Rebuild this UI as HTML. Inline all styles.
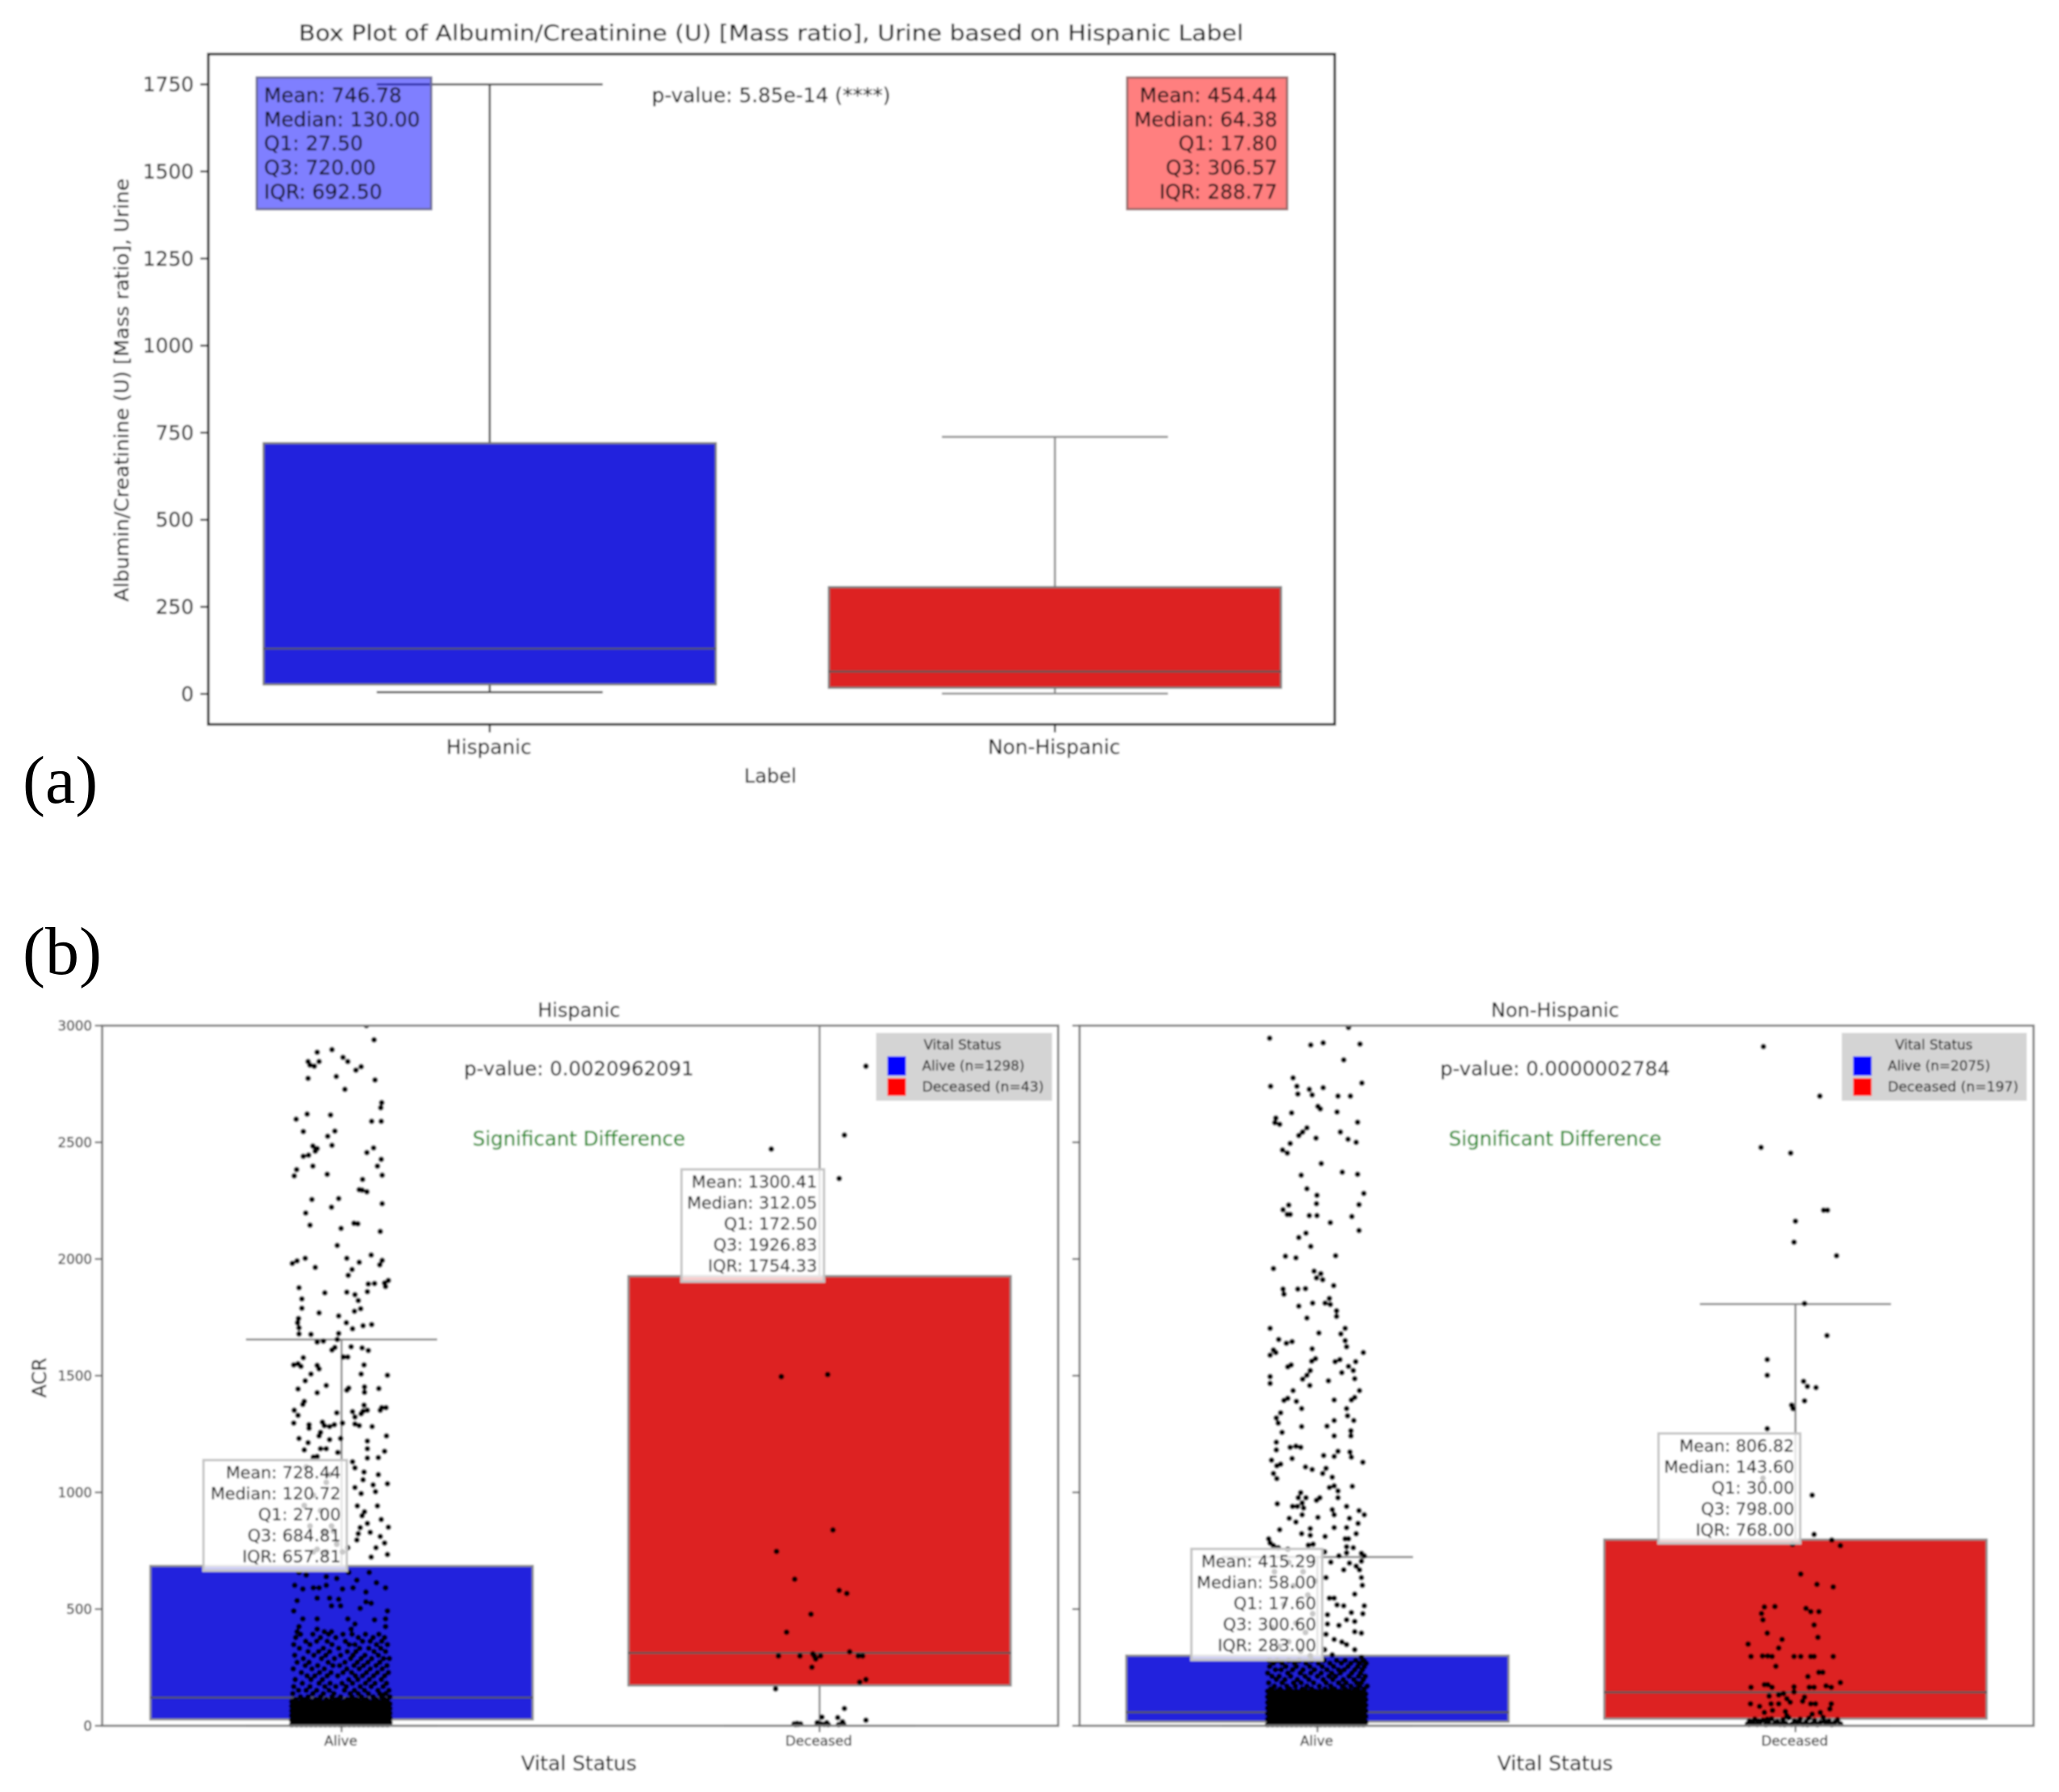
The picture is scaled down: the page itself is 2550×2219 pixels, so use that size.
<!DOCTYPE html>
<html lang="en">
<head>
<meta charset="utf-8">
<title>Box plots of albumin/creatinine ratio</title>
<style>
html,body{margin:0;padding:0;background:#fff;width:2550px;height:2219px;overflow:hidden}
svg{display:block}
text{font-family:"DejaVu Sans","Liberation Sans",sans-serif;fill:#0c0c0c;stroke:#0c0c0c;stroke-width:.3px}
.panel-tag{font-family:"Liberation Serif",serif;font-size:84px;fill:#000;stroke:none}
</style>
</head>
<body>
<svg id="figure" xmlns="http://www.w3.org/2000/svg" width="2550" height="2219" viewBox="0 0 2550 2219">
  <defs>
    <filter id="soft" x="-2%" y="-2%" width="104%" height="104%"><feGaussianBlur stdDeviation="1"/></filter>
    <clipPath id="clip-left"><rect x="126" y="1270" width="1185" height="869"/></clipPath>
    <clipPath id="clip-right"><rect x="1337" y="1270" width="1182" height="869"/></clipPath>
  </defs>
  <g id="soft-layer" filter="url(#soft)">
    <rect x="0" y="0" width="2550" height="2219" fill="#fff"/>

    <g id="chart-a">
      <text x="955" y="50" text-anchor="middle" font-size="27" textLength="1170" lengthAdjust="spacingAndGlyphs">Box Plot of Albumin/Creatinine (U) [Mass ratio], Urine based on Hispanic Label</text>
      <text x="954" y="969" text-anchor="middle" font-size="24">Label</text>
      <text transform="translate(159,483) rotate(-90)" text-anchor="middle" font-size="24" textLength="524" lengthAdjust="spacingAndGlyphs">Albumin/Creatinine (U) [Mass ratio], Urine</text>
    </g>
    <g id="chart-b-left">
      <text x="717" y="1259" text-anchor="middle" font-size="24">Hispanic</text>
      <text x="717" y="2192" text-anchor="middle" font-size="25">Vital Status</text>
      <text transform="translate(57,1706) rotate(-90)" text-anchor="middle" font-size="24">ACR</text>
    </g>
    <g id="chart-b-right">
      <text x="1926" y="1259" text-anchor="middle" font-size="24">Non-Hispanic</text>
      <text x="1926" y="2192" text-anchor="middle" font-size="25">Vital Status</text>
    </g>
  </g>
  <text class="panel-tag" x="28" y="994">(a)</text>
  <text class="panel-tag" x="28" y="1206">(b)</text>
</svg>

<script>
// ---------- chart (a) data ----------
const aCategories = ['Hispanic', 'Non-Hispanic'];
const aWhiskerLow = [5, 1];
const aQ1 = [27.5, 17.8];
const aMedian = [130, 64.38];
const aQ3 = [720, 306.57];
const aWhiskerHigh = [1750, 738];
const aYTicks = [0, 250, 500, 750, 1000, 1250, 1500, 1750];
const aStatLinesHispanic = ['Mean: 746.78', 'Median: 130.00', 'Q1: 27.50', 'Q3: 720.00', 'IQR: 692.50'];
const aStatLinesNonHispanic = ['Mean: 454.44', 'Median: 64.38', 'Q1: 17.80', 'Q3: 306.57', 'IQR: 288.77'];

// ---------- chart (b) data ----------
const bCategories = ['Alive', 'Deceased'];
const bYTicks = [0, 500, 1000, 1500, 2000, 2500, 3000];
const hWhiskerLow = [0, 0];
const hQ1 = [27, 172.5];
const hMedian = [120.72, 312.05];
const hQ3 = [684.81, 1926.83];
const hWhiskerHigh = [1655, 4058];
const nWhiskerLow = [0, 0];
const nQ1 = [17.6, 30];
const nMedian = [58, 143.6];
const nQ3 = [300.6, 798];
const nWhiskerHigh = [723, 1807];
const hStatsAlive = ['Mean: 728.44', 'Median: 120.72', 'Q1: 27.00', 'Q3: 684.81', 'IQR: 657.81'];
const hStatsDeceased = ['Mean: 1300.41', 'Median: 312.05', 'Q1: 172.50', 'Q3: 1926.83', 'IQR: 1754.33'];
const nStatsAlive = ['Mean: 415.29', 'Median: 58.00', 'Q1: 17.60', 'Q3: 300.60', 'IQR: 283.00'];
const nStatsDeceased = ['Mean: 806.82', 'Median: 143.60', 'Q1: 30.00', 'Q3: 798.00', 'IQR: 768.00'];

// strip-plot points: [jitter (thousandths of a category), ACR]
const hispanicAlivePoints = [[52,3000],[68,2939],[-51,2886],[-20,2897],[-70,2846],[-66,2831],[-57,2826],[-47,2846],[3,2864],[13,2846],[30,2809],[41,2824],[-11,2782],[-70,2774],[70,2767],[7,2727],[84,2670],[82,2648],[-72,2621],[-95,2599],[-23,2617],[63,2590],[83,2590],[-80,2546],[-14,2548],[-29,2526],[-20,2487],[-60,2484],[-51,2473],[-55,2462],[67,2476],[53,2456],[-69,2445],[-80,2440],[83,2427],[-60,2398],[75,2398],[-94,2383],[-99,2356],[-30,2363],[85,2359],[44,2341],[37,2297],[43,2295],[53,2288],[-62,2255],[-6,2259],[-21,2222],[85,2237],[-75,2197],[-66,2145],[-1,2131],[26,2153],[34,2151],[81,2118],[-9,2058],[62,2017],[-76,2003],[-93,1992],[-103,1981],[11,2003],[85,1994],[37,1986],[80,1975],[-55,1964],[22,1955],[14,1930],[98,1908],[69,1895],[56,1893],[92,1882],[90,1897],[-89,1877],[54,1860],[-35,1855],[11,1858],[28,1847],[35,1822],[-83,1829],[-83,1789],[-47,1769],[40,1787],[27,1776],[-6,1756],[-90,1745],[10,1727],[-92,1727],[-89,1705],[63,1719],[23,1701],[45,1714],[-89,1679],[-64,1677],[-6,1681],[-9,1655],[-51,1644],[-38,1648],[-20,1610],[-14,1621],[20,1624],[43,1619],[56,1608],[4,1580],[13,1580],[47,1546],[-80,1577],[-91,1551],[-100,1546],[-85,1540],[-51,1544],[-47,1529],[-64,1507],[96,1502],[41,1507],[-76,1478],[-32,1458],[48,1452],[78,1445],[15,1447],[11,1438],[-91,1443],[-51,1427],[48,1429],[-78,1390],[-81,1377],[47,1374],[-99,1352],[-91,1330],[23,1346],[54,1352],[45,1348],[84,1363],[93,1363],[81,1352],[-10,1341],[28,1323],[41,1337],[-100,1297],[-68,1290],[-68,1275],[-40,1301],[-36,1286],[-25,1282],[-15,1290],[2,1297],[28,1293],[37,1286],[64,1282],[-44,1257],[-47,1242],[-89,1231],[-70,1213],[-25,1226],[-2,1231],[54,1220],[94,1242],[-78,1182],[-44,1187],[-32,1187],[54,1187],[54,1147],[77,1149],[90,1176],[-8,1171],[-51,1154],[-59,1151],[23,1131],[28,1105],[47,1087],[45,1054],[77,1076],[96,1037],[66,1032],[71,1003],[28,1021],[41,995],[33,942],[75,942],[48,917],[43,900],[83,884],[54,867],[39,849],[60,829],[98,851],[32,796],[35,823],[81,811],[90,783],[72,763],[13,763],[96,734],[62,723],[2,745],[-59,745],[-21,856],[-51,756],[-36,834],[-74,1109],[-25,1076],[-32,1043],[-59,988],[-44,922],[-17,834],[-10,778],[-78,944],[-66,856],[-32,745],[-89,657],[-74,646],[-32,639],[-10,631],[15,657],[32,624],[58,657],[73,613],[-98,602],[-81,586],[-59,591],[-47,591],[-32,602],[2,586],[24,591],[51,573],[92,591],[-51,547],[-25,547],[-6,542],[51,531],[62,525],[-93,536],[-100,492],[-81,458],[-51,458],[-21,514],[-2,514],[39,503],[96,492],[92,458],[-89,425],[-93,403],[-51,414],[-36,403],[-21,403],[13,458],[28,436],[20,414],[69,454],[92,425]];
const hispanicAliveRows = [[392,[-86,-60,-27,3,22,50,78]],[378,[-96,-44,-12,35,66,90]],[362,[-75,-52,-30,8,44,60,84]],[348,[-100,-66,-20,16,28,73,96]],[332,[-88,-38,-6,38,57,82]],[318,[-70,-48,-25,12,30,68,92]],[302,[-98,-58,-33,-2,24,49,77]],[288,[-80,-42,-15,19,41,63,88,100]],[272,[-93,-68,-28,7,33,55,80]],[258,[-76,-50,-18,-4,26,46,72,95]],[244,[-101,-62,-36,11,37,60,85]],[228,[-84,-46,-22,3,21,52,75,98]],[214,[-72,-56,-30,-8,29,44,67,90]],[198,[-97,-64,-40,15,34,58,83]],[182,[-82,-47,-24,1,23,50,70,94]],[168,[-100,-66,-35,-12,10,39,62,87]],[152,[-90,-74,-52,-26,6,27,48,76,99]],[138,[-102,-60,-38,-16,18,35,56,80,92]],[124,[-86,-70,-44,-20,-2,22,42,66,84,101]],[112,[-96,-78,-54,-32,-10,12,31,52,72,90]]];
const hispanicBandValues = [4, 14, 24, 34, 44, 54, 64, 74, 84, 94, 104];
const hispanicDeceasedPoints = [[97,2826],[52,2531],[-101,2471],[41,2345],[-80,1496],[17,1505],[28,839],[-90,747],[-52,628],[41,580],[57,567],[-18,478],[-69,401],[-86,299],[-41,299],[-14,308],[2,299],[-8,286],[-11,299],[63,317],[81,299],[90,299],[-16,251],[97,198],[84,187],[-92,158],[52,74],[38,35],[5,37],[48,17],[97,24],[15,13],[-5,13],[-53,8],[-47,10],[-40,8],[-44,6],[-50,5],[10,6],[50,8],[40,5],[3,8],[18,5]];
const nonHispanicAlivePoints = [[65,2992],[-100,2946],[-14,2917],[12,2926],[89,2921],[55,2853],[-51,2776],[93,2754],[-98,2740],[-43,2740],[-41,2707],[-17,2727],[-11,2703],[12,2734],[43,2698],[69,2698],[1,2654],[6,2643],[41,2630],[-54,2626],[-87,2604],[-89,2584],[-79,2577],[84,2586],[-22,2562],[-31,2544],[-39,2529],[48,2544],[64,2513],[-3,2518],[81,2500],[-57,2495],[-73,2467],[-63,2454],[8,2409],[52,2372],[84,2363],[-34,2359],[-22,2301],[97,2281],[-1,2273],[-2,2237],[87,2233],[-60,2231],[-72,2211],[-63,2191],[-57,2191],[-17,2186],[-1,2186],[72,2182],[27,2156],[-24,2111],[-39,2092],[87,2122],[-14,2054],[-67,2012],[-45,2005],[38,2014],[-92,1959],[-7,1948],[7,1937],[-2,1919],[11,1911],[34,1886],[-72,1871],[-70,1849],[-41,1871],[-25,1873],[-10,1811],[-39,1798],[16,1811],[25,1831],[27,1805],[40,1778],[40,1754],[-22,1747],[-99,1703],[58,1703],[3,1683],[49,1679],[58,1650],[61,1624],[-81,1655],[-65,1639],[-53,1646],[-92,1610],[-87,1599],[-99,1588],[96,1599],[-11,1615],[-4,1573],[-12,1562],[37,1560],[47,1569],[80,1560],[-55,1546],[-62,1538],[65,1540],[75,1522],[51,1513],[-15,1522],[-22,1502],[-31,1485],[-99,1496],[-99,1467],[78,1487],[23,1478],[-16,1458],[-51,1436],[88,1436],[78,1407],[71,1396],[35,1396],[-62,1403],[-70,1394],[-44,1390],[-33,1359],[61,1359],[63,1328],[76,1308],[35,1308],[-77,1341],[-86,1319],[-82,1297],[20,1284],[-33,1282],[-74,1257],[70,1264],[70,1242],[35,1242],[-86,1215],[-86,1182],[-57,1193],[-45,1198],[-35,1193],[43,1176],[35,1154],[13,1158],[68,1173],[71,1151],[95,1129],[-53,1145],[-96,1138],[-77,1121],[-85,1114],[-25,1109],[-11,1098],[18,1103],[11,1081],[-92,1081],[-85,1059],[31,1065],[35,1028],[25,1021],[43,1006],[73,1026],[43,977],[-35,999],[-40,977],[-24,977],[-32,955],[5,977],[-2,966],[-84,951],[-52,940],[-42,940],[-29,933],[61,940],[31,926],[35,904],[87,922],[98,904],[-32,904],[1,893],[-59,889],[-45,873],[67,889],[85,867],[35,849],[61,849],[-79,840],[-15,845],[-33,823],[-15,816],[16,811],[81,823],[58,801],[65,801],[-102,801],[-99,783],[-92,772],[-82,763],[-62,756],[-19,774],[-9,778],[61,767],[75,763],[61,741],[92,739],[98,728],[15,745],[45,728],[28,701],[92,705],[81,684],[88,668],[55,668],[67,697],[92,635],[18,635],[94,602],[78,564],[35,547],[25,547],[41,518],[55,514],[98,514],[95,480],[71,485],[21,476],[78,447],[61,454],[45,430],[21,436],[78,403],[92,397],[18,392],[35,370],[51,359],[61,348],[78,326],[92,293],[98,277],[15,326],[31,304],[-60,700],[-30,660],[-50,600],[-20,560],[-70,520],[-10,480],[-45,440],[-25,400],[-60,360],[-35,320],[-15,300],[-80,340],[-5,620],[-90,660],[-95,420]];
const nonHispanicAliveRows = [[280,[-101,-84,-60,-38,-12,14,40,58,80,96]],[268,[-92,-74,-48,-24,2,26,50,70,88,102]],[254,[-100,-66,-44,-16,10,34,64,84,98]],[240,[-88,-76,-52,-30,-6,20,44,56,78,94]],[226,[-104,-62,-36,-14,8,30,48,72,90]],[212,[-95,-80,-56,-26,0,24,38,66,86,100]],[198,[-86,-68,-42,-18,12,32,54,76,96]],[184,[-102,-74,-50,-34,-8,18,44,60,82,92]],[170,[-90,-64,-46,-22,4,28,52,70,88,104]],[158,[-98,-78,-58,-32,-12,16,36,58,80,98]]];
const nonHispanicBandValues = [4, 16, 28, 40, 52, 64, 76, 88, 100, 112, 124, 136, 148];
const nonHispanicDeceasedPoints = [[-67,2910],[51,2698],[-72,2478],[-10,2454],[59,2209],[67,2209],[0,2162],[-3,2072],[86,2014],[19,1809],[66,1672],[-59,1569],[-59,1502],[17,1476],[25,1454],[43,1449],[19,1392],[-8,1374],[-5,1359],[-59,1273],[-68,1061],[35,988],[39,820],[76,796],[94,772],[-6,778],[11,650],[45,606],[79,595],[-65,509],[-71,481],[-68,454],[-43,511],[22,503],[32,489],[49,489],[39,432],[-59,397],[47,379],[-28,370],[-99,350],[-35,333],[-93,297],[-69,299],[-58,299],[-49,297],[-3,297],[11,297],[32,297],[39,297],[79,297],[-41,255],[26,211],[49,229],[57,229],[94,185],[-93,165],[-65,176],[-58,176],[-49,165],[-3,167],[29,165],[39,165],[64,171],[75,165],[-3,145],[-55,127],[-35,132],[-25,138],[-18,116],[19,123],[15,105],[-94,94],[-75,83],[-51,94],[-35,94],[-11,101],[32,94],[42,94],[75,94],[-65,57],[-48,66],[-21,61],[-18,43],[35,50],[52,57],[72,72],[-100,8],[-96,20],[-90,12],[-85,28],[-80,6],[-74,14],[-68,24],[-62,5],[-56,12],[-50,30],[-44,8],[-38,18],[-32,6],[-26,26],[-20,10],[-14,34],[-8,6],[-2,20],[4,12],[10,28],[16,6],[22,16],[28,32],[34,8],[40,22],[46,5],[52,14],[58,36],[64,8],[70,20],[76,5],[82,14],[88,26],[94,8],[-97,6],[-77,20],[-59,28],[-41,14],[-23,5],[7,18],[25,5],[61,18]];
const bandJitterOdd = [-104,-94,-84,-74,-64,-54,-44,-34,-24,-14,-4,6,16,26,36,46,56,66,76,86,96];
const bandJitterEven = [-99,-89,-79,-69,-59,-49,-39,-29,-19,-9,1,11,21,31,41,51,61,71,81,91,101];

const NS = 'http://www.w3.org/2000/svg';
const BLUE = '#2020dd', RED = '#dd2020';

function mk(parent, tag, name, props, label) {
  const el = document.createElementNS(NS, tag);
  
  
  for (const k in props) el.setAttribute(k, props[k]);
  if (tag === 'text' && props['dominant-baseline']) el.setAttribute('dy', '1.6');
  if (label !== undefined) el.textContent = label;
  parent.appendChild(el);
  return el;
}
function line(p, name, x1, y1, x2, y2, stroke, w) {
  return mk(p, 'line', name, {x1, y1, x2, y2, stroke, 'stroke-width': w});
}
function linearScale(d0, d1, r0, r1) {
  return v => r0 + (v - d0) * (r1 - r0) / (d1 - d0);
}

function drawBox(p, prefix, xc, sep, y, lo, q1, med, q3, hi, fill, edge, whisk) {
  const half = 0.4 * sep, capHalf = 0.2 * sep, bw = 2.6;
  line(p, prefix + '-whisker-upper', xc, y(q3), xc, y(hi), whisk, bw);
  line(p, prefix + '-whisker-lower', xc, y(q1), xc, y(lo), whisk, bw);
  line(p, prefix + '-cap-upper', xc - capHalf, y(hi), xc + capHalf, y(hi), whisk, bw);
  line(p, prefix + '-cap-lower', xc - capHalf, y(lo), xc + capHalf, y(lo), whisk, bw);
  mk(p, 'rect', prefix + '-box', {x: xc - half, y: y(q3), width: 2 * half, height: y(q1) - y(q3), fill, stroke: edge, 'stroke-width': bw});
  line(p, prefix + '-median', xc - half, y(med), xc + half, y(med), '#555', 2.4);
}

function statBox(p, name, x, y, w, h, fill, stroke, lines, anchor, tx, ty0, dy, size) {
  mk(p, 'rect', name + '-background', {x, y, width: w, height: h, fill, stroke, 'stroke-width': 3});
  lines.forEach((t, i) => {
    mk(p, 'text', name + '-line', {x: tx, y: ty0 + i * dy, 'text-anchor': anchor, 'font-size': size, 'dominant-baseline': 'middle'}, t);
  });
}

// ---------- chart (a) ----------
(function () {
  const g = document.getElementById('chart-a');
  const y = linearScale(0, 1750, 859.3, 104.5);
  const x0 = 606.5, sep = 700;
  const x = i => x0 + i * sep;
  drawBox(g, 'hispanic', x(0), sep, y, aWhiskerLow[0], aQ1[0], aMedian[0], aQ3[0], aWhiskerHigh[0], BLUE, '#7a7a7a', '#444');
  drawBox(g, 'non-hispanic', x(1), sep, y, aWhiskerLow[1], aQ1[1], aMedian[1], aQ3[1], aWhiskerHigh[1], RED, '#7a7a7a', '#8a8a8a');
  statBox(g, 'hispanic-stats', 318, 96, 216, 163, 'rgba(0,0,255,0.5)', '#6a6a9a', aStatLinesHispanic, 'start', 327, 118, 29.8, 24.8);
  statBox(g, 'non-hispanic-stats', 1396, 96, 198, 163, 'rgba(255,0,0,0.5)', '#9a6a6a', aStatLinesNonHispanic, 'end', 1582, 118, 29.8, 24.8);
  mk(g, 'text', 'p-value-label', {x: 955, y: 118, 'text-anchor': 'middle', 'dominant-baseline': 'middle', 'font-size': 24.8}, 'p-value: 5.85e-14 (****)');
  mk(g, 'rect', 'chart-a-frame', {x: 258, y: 67, width: 1395, height: 830, fill: 'none', stroke: '#1a1a1a', 'stroke-width': 3.2});
  aYTicks.forEach(t => {
    line(g, 'y-tick', 248, y(t), 258, y(t), '#222', 2.4);
    mk(g, 'text', 'y-tick-label', {x: 240, y: y(t), 'text-anchor': 'end', 'dominant-baseline': 'middle', 'font-size': 24.8}, String(t));
  });
  aCategories.forEach((c, i) => {
    line(g, 'x-tick', x(i), 897, x(i), 907, '#222', 2.4);
    mk(g, 'text', 'x-tick-label', {x: x(i) - 1, y: 925, 'text-anchor': 'middle', 'dominant-baseline': 'middle', 'font-size': 24.8}, c);
  });
})();

// ---------- chart (b) ----------
function drawPanel(cfg) {
  const g = document.getElementById(cfg.id);
  const y = linearScale(0, 3000, 2137, 1270);
  const sep = 592;
  const x = (i, j) => cfg.x0 + (i + (j || 0) / 1000) * sep;
  const plot = mk(g, 'g', cfg.prefix + '-plot-area', {'clip-path': 'url(#' + cfg.clip + ')'});

  drawBox(plot, cfg.prefix + '-alive', x(0), sep, y, cfg.lo[0], cfg.q1[0], cfg.med[0], cfg.q3[0], cfg.hi[0], BLUE, '#8a8a8a', '#8a8a8a');
  drawBox(plot, cfg.prefix + '-deceased', x(1), sep, y, cfg.lo[1], cfg.q1[1], cfg.med[1], cfg.q3[1], cfg.hi[1], RED, '#8a8a8a', '#8a8a8a');

  const dots = mk(plot, 'g', cfg.prefix + '-strip-points', {fill: '#000'});
  const dot = (cat, j, v) => mk(dots, 'circle', cfg.prefix + '-point', {cx: x(cat, j), cy: y(v), r: 3.6});
  cfg.alive.forEach(p => dot(0, p[0], p[1]));
  cfg.aliveRows.forEach(r => r[1].forEach(j => dot(0, j, r[0])));
  cfg.band.forEach((v, i) => (i % 2 ? bandJitterEven : bandJitterOdd).forEach(j => dot(0, j, v)));
  cfg.deceased.forEach(p => dot(1, p[0], p[1]));

  statBox(g, cfg.prefix + '-alive-stats', cfg.sa[0], cfg.sa[1], cfg.sa[2], cfg.sa[3], 'rgba(255,255,255,0.78)', '#c4c4c4', cfg.statsAlive, 'end', cfg.sa[4], cfg.sa[1] + 15, 26, 20.7);
  statBox(g, cfg.prefix + '-deceased-stats', cfg.sd[0], cfg.sd[1], cfg.sd[2], cfg.sd[3], 'rgba(255,255,255,0.78)', '#c4c4c4', cfg.statsDeceased, 'end', cfg.sd[4], cfg.sd[1] + 15, 26, 20.7);

  mk(g, 'text', cfg.prefix + '-p-value', {x: cfg.cx, y: 1323, 'text-anchor': 'middle', 'dominant-baseline': 'middle', 'font-size': 24.4}, cfg.p);
  mk(g, 'text', cfg.prefix + '-significance', {x: cfg.cx, y: 1410, 'text-anchor': 'middle', 'dominant-baseline': 'middle', 'font-size': 24.5, style: 'fill:#008a00;stroke:#008a00'}, 'Significant Difference');

  const L = cfg.legend;
  mk(g, 'rect', cfg.prefix + '-legend-frame', {x: L.x, y: 1279, width: L.w, height: 84, fill: '#d4d4d4'});
  mk(g, 'text', cfg.prefix + '-legend-title', {x: L.tc, y: 1293, 'text-anchor': 'middle', 'dominant-baseline': 'middle', 'font-size': 16.8}, 'Vital Status');
  mk(g, 'rect', cfg.prefix + '-legend-swatch-alive', {x: L.sx, y: 1308, width: L.sw, height: 24, fill: '#0000ff'});
  mk(g, 'rect', cfg.prefix + '-legend-swatch-deceased', {x: L.sx, y: 1335, width: L.sw, height: 22, fill: '#ff0000'});
  mk(g, 'text', cfg.prefix + '-legend-alive', {x: L.tx, y: 1319, 'dominant-baseline': 'middle', 'font-size': 16.8}, L.a);
  mk(g, 'text', cfg.prefix + '-legend-deceased', {x: L.tx, y: 1345, 'dominant-baseline': 'middle', 'font-size': 17.2}, L.d);

  mk(g, 'rect', cfg.prefix + '-frame', {x: cfg.left, y: 1270, width: cfg.w, height: 867, fill: 'none', stroke: '#7e7e7e', 'stroke-width': 2.8});
  bYTicks.forEach(t => {
    line(g, cfg.prefix + '-y-tick', cfg.left - 9, y(t), cfg.left, y(t), '#666', 2.2);
    if (cfg.showY) mk(g, 'text', 'y-tick-label', {x: 114, y: y(t), 'text-anchor': 'end', 'dominant-baseline': 'middle', 'font-size': 16.7}, String(t));
  });
  bCategories.forEach((c, i) => {
    line(g, cfg.prefix + '-x-tick', x(i), 2137, x(i), 2145, '#666', 2.2);
    mk(g, 'text', cfg.prefix + '-x-tick-label', {x: x(i) - 1, y: 2155, 'text-anchor': 'middle', 'dominant-baseline': 'middle', 'font-size': 16.8}, c);
  });
}

drawPanel({
  id: 'chart-b-left', prefix: 'hispanic', clip: 'clip-left', x0: 423, left: 126.5, w: 1184, cx: 717, showY: true,
  lo: hWhiskerLow, q1: hQ1, med: hMedian, q3: hQ3, hi: hWhiskerHigh,
  alive: hispanicAlivePoints, aliveRows: hispanicAliveRows, band: hispanicBandValues, deceased: hispanicDeceasedPoints,
  statsAlive: hStatsAlive, statsDeceased: hStatsDeceased,
  sa: [252, 1808, 177.5, 137, 422], sd: [844, 1448, 176.5, 139, 1012],
  p: 'p-value: 0.0020962091',
  legend: {x: 1085, w: 218, tc: 1192, sx: 1099, sw: 23, tx: 1142, a: 'Alive (n=1298)', d: 'Deceased (n=43)'}
});
drawPanel({
  id: 'chart-b-right', prefix: 'non-hispanic', clip: 'clip-right', x0: 1631.6, left: 1337, w: 1181.5, cx: 1926, showY: false,
  lo: nWhiskerLow, q1: nQ1, med: nMedian, q3: nQ3, hi: nWhiskerHigh,
  alive: nonHispanicAlivePoints, aliveRows: nonHispanicAliveRows, band: nonHispanicBandValues, deceased: nonHispanicDeceasedPoints,
  statsAlive: nStatsAlive, statsDeceased: nStatsDeceased,
  sa: [1475.5, 1918, 162, 137.5, 1630], sd: [2054, 1775, 175.5, 136, 2222],
  p: 'p-value: 0.0000002784',
  legend: {x: 2281, w: 229, tc: 2395, sx: 2295, sw: 23, tx: 2338, a: 'Alive (n=2075)', d: 'Deceased (n=197)'}
});
</script>
</body>
</html>
